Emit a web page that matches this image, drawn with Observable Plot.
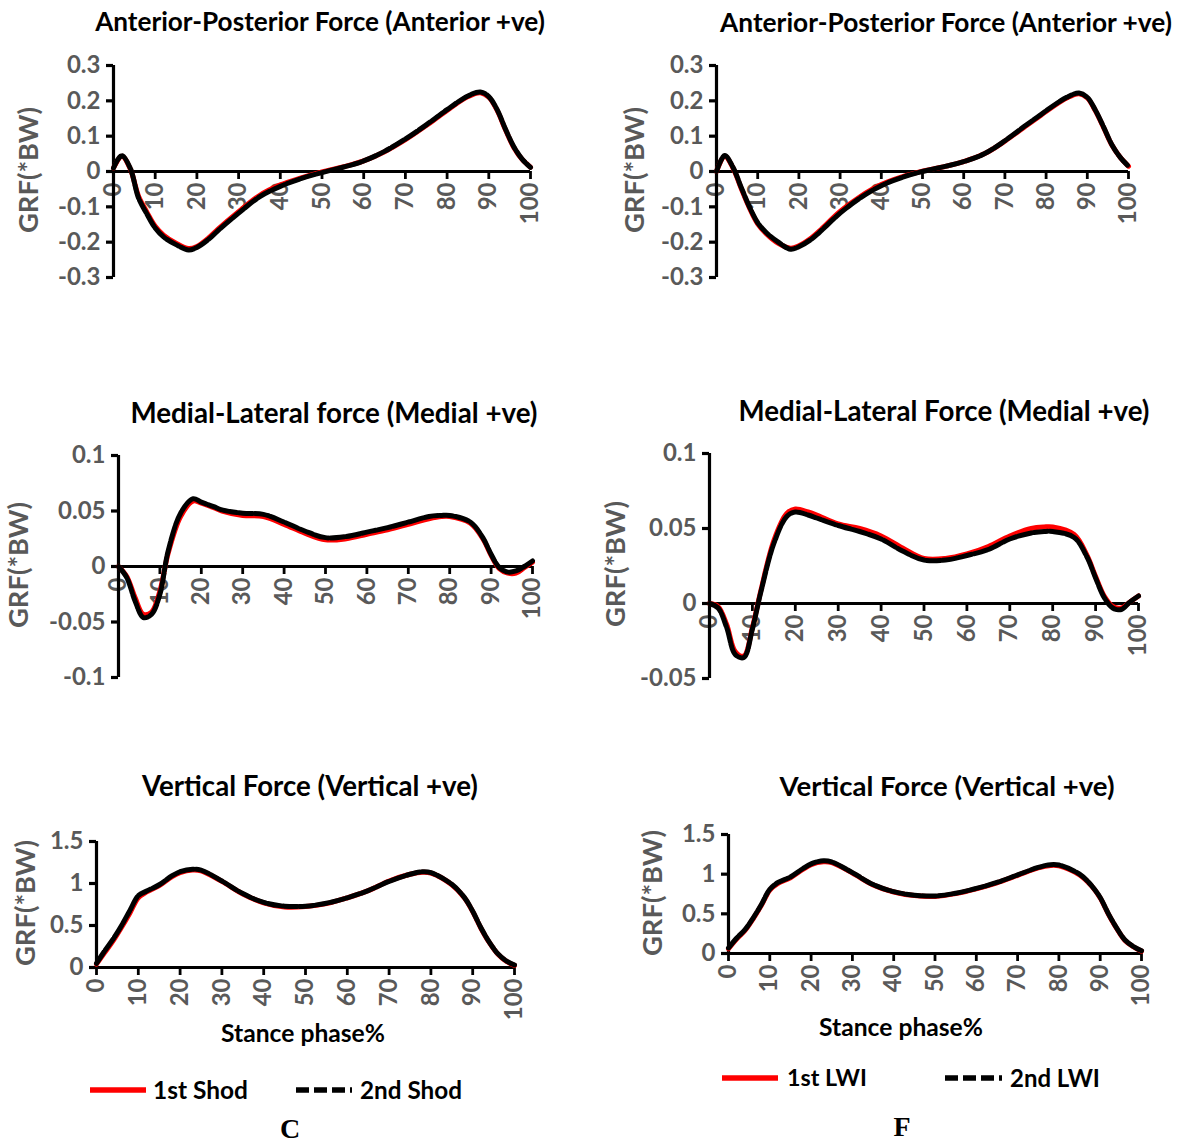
<!DOCTYPE html>
<html><head><meta charset="utf-8">
<script src="https://cdn.jsdelivr.net/npm/d3@7"></script>
<script src="https://cdn.jsdelivr.net/npm/@observablehq/plot@0.6"></script>
<style>
body{margin:0;background:#fff;}
#root{position:relative;width:1179px;height:1146px;overflow:hidden;background:#fff;font-family:Lato,"Open Sans",sans-serif;}
.t{position:absolute;white-space:nowrap;font-weight:700;line-height:1;}
.c{transform:translate(-50%,-50%);}
.ylab{transform:translate(-50%,-50%) rotate(-90deg);color:#595959;}
#root svg{overflow:visible;}
</style></head><body><div id="root"></div>
<script>
// ---- data ----
const stance = [0,2,4,6,8,10,12,15,18,20,23,25,30,35,40,45,50,55,60,65,70,75,78,80,85,88,90,92,94,96,98,100];
const apShod1 = [0.01,0.043,0.008,-0.07,-0.115,-0.155,-0.18,-0.203,-0.218,-0.212,-0.186,-0.164,-0.114,-0.068,-0.038,-0.018,-0.001,0.013,0.03,0.056,0.09,0.13,0.156,0.173,0.212,0.223,0.21,0.173,0.118,0.068,0.034,0.012];
const apShod2 = [0.01,0.045,0.01,-0.075,-0.12,-0.16,-0.185,-0.207,-0.222,-0.215,-0.19,-0.168,-0.118,-0.072,-0.042,-0.02,-0.003,0.012,0.03,0.057,0.092,0.132,0.158,0.175,0.214,0.225,0.212,0.175,0.12,0.07,0.035,0.012];
const apLwi1 = [0.0,0.043,0.01,-0.048,-0.103,-0.148,-0.175,-0.203,-0.217,-0.21,-0.188,-0.168,-0.113,-0.07,-0.037,-0.015,0.001,0.013,0.028,0.05,0.086,0.128,0.153,0.17,0.208,0.22,0.208,0.171,0.123,0.074,0.04,0.015];
const apLwi2 = [0.0,0.045,0.012,-0.045,-0.1,-0.145,-0.172,-0.2,-0.22,-0.213,-0.192,-0.172,-0.118,-0.074,-0.04,-0.017,0.0,0.013,0.028,0.05,0.087,0.13,0.155,0.172,0.21,0.222,0.21,0.173,0.125,0.075,0.04,0.015];
const mlShod1 = [0,-0.009,-0.028,-0.043,-0.041,-0.022,0.012,0.045,0.059,0.057,0.053,0.05,0.046,0.045,0.038,0.03,0.024,0.025,0.029,0.033,0.038,0.043,0.045,0.045,0.039,0.025,0.01,-0.002,-0.006,-0.006,-0.001,0.004];
const mlShod2 = [0,-0.01,-0.031,-0.046,-0.043,-0.025,0.014,0.048,0.061,0.058,0.054,0.051,0.048,0.047,0.04,0.032,0.026,0.027,0.031,0.035,0.04,0.045,0.046,0.046,0.04,0.026,0.011,-0.001,-0.005,-0.004,0,0.005];
const mlLwi1 = [0,-0.002,-0.014,-0.032,-0.035,-0.016,0.009,0.042,0.06,0.063,0.061,0.059,0.053,0.05,0.045,0.037,0.03,0.03,0.033,0.038,0.045,0.05,0.051,0.051,0.046,0.032,0.018,0.005,-0.002,-0.003,0.001,0.005];
const mlLwi2 = [0,-0.003,-0.016,-0.034,-0.036,-0.017,0.008,0.04,0.058,0.061,0.059,0.057,0.052,0.048,0.043,0.035,0.029,0.029,0.032,0.036,0.043,0.047,0.048,0.048,0.044,0.031,0.017,0.004,-0.003,-0.004,0.001,0.005];
const vShod1 = [0.04,0.18,0.32,0.48,0.65,0.83,0.9,0.975,1.08,1.13,1.16,1.15,1.025,0.875,0.77,0.72,0.725,0.76,0.83,0.915,1.03,1.11,1.135,1.125,0.985,0.83,0.665,0.465,0.295,0.16,0.075,0.025];
const vShod2 = [0.05,0.2,0.34,0.5,0.68,0.855,0.91,0.985,1.09,1.14,1.17,1.16,1.03,0.88,0.775,0.73,0.73,0.765,0.83,0.915,1.025,1.11,1.14,1.13,0.99,0.835,0.67,0.47,0.3,0.165,0.08,0.03];
const vLwi1 = [0.06,0.185,0.29,0.44,0.61,0.8,0.885,0.955,1.06,1.12,1.155,1.145,1.015,0.865,0.775,0.73,0.72,0.755,0.815,0.89,0.985,1.08,1.11,1.105,0.99,0.845,0.7,0.495,0.315,0.165,0.085,0.03];
const vLwi2 = [0.07,0.195,0.3,0.45,0.62,0.81,0.895,0.965,1.07,1.13,1.17,1.155,1.02,0.87,0.78,0.735,0.725,0.76,0.82,0.895,0.99,1.085,1.12,1.115,1.0,0.85,0.705,0.5,0.32,0.17,0.09,0.035];

const xTicks = [0,10,20,30,40,50,60,70,80,90,100];
const apTicks = [-0.3,-0.2,-0.1,0,0.1,0.2,0.3];
const mlTicksC = [-0.1,-0.05,0,0.05,0.1];
const mlTicksF = [-0.05,0,0.05,0.1];
const vTicks = [0,0.5,1,1.5];

const titlesC = ["Anterior-Posterior Force (Anterior +ve)","Medial-Lateral force (Medial +ve)","Vertical Force (Vertical +ve)"];
const titlesF = ["Anterior-Posterior Force (Anterior +ve)","Medial-Lateral Force (Medial +ve)","Vertical Force (Vertical +ve)"];
const yLabel = "GRF(*BW)";
const xLabel = "Stance phase%";
const legendC = ["1st Shod","2nd Shod"];
const legendF = ["1st LWI","2nd LWI"];
const panelLetters = ["C","F"];

// ---- layout ----
const root = document.getElementById("root");
const GRAY = "#595959";
const FONT = 'Lato,"Open Sans",sans-serif';

function addText(txt, cx, cy, size, cls, color, width, family) {
  const d = document.createElement("div");
  d.className = "t " + cls;
  d.textContent = txt;
  d.style.left = cx + "px"; d.style.top = cy + "px";
  d.style.fontSize = size + "px";
  if (color) d.style.color = color;
  if (family) d.style.fontFamily = family;
  root.appendChild(d);
  if (width) {
    const w = d.getBoundingClientRect();
    const cur = cls.includes("ylab") ? w.height : w.width;
    d.style.fontSize = (size * width / cur) + "px";
  }
  return d;
}

function panel(s1, s2, yTicks, frame, title, titlePos, ylabPos) {
  const [x0, x1, yT, yB] = frame;
  const mL = 90, mR = 20, mT = 14, mB = 70;
  const d1 = stance.map((x, i) => ({x, y: s1[i]}));
  const d2 = stance.map((x, i) => ({x, y: s2[i]}));
  const plot = Plot.plot({
    width: x1 - x0 + mL + mR, height: yB - yT + mT + mB,
    marginLeft: mL, marginRight: mR, marginTop: mT, marginBottom: mB,
    x: {domain: [0, 100], axis: null},
    y: {domain: [yTicks[0], yTicks[yTicks.length - 1]], axis: null},
    style: {fontFamily: FONT, fontWeight: 700, fontSize: "21px", background: "transparent", overflow: "visible"},
    marks: [
      Plot.text(xTicks, {x: d => d, y: 0, text: d => String(d), rotate: -90, textAnchor: "end", dy: 11, fill: GRAY, fontSize: 24, fontWeight: 700}),
      Plot.ruleY([0], {stroke: "black", strokeWidth: 2.8}),
      Plot.ruleX(xTicks, {x: d => d, y1: 0, y2: 0, insetBottom: -8, stroke: "black", strokeWidth: 2.8}),
      Plot.ruleX([0], {stroke: "black", strokeWidth: 3.2}),
      Plot.axisY(yTicks, {tickSize: 7, tickPadding: 6, strokeWidth: 3.2, stroke: "black", fill: GRAY, tickFormat: d => String(d), label: null, fontSize: 24, fontWeight: 700}),
      Plot.line(d1, {x: "x", y: "y", stroke: "#ff0000", strokeWidth: 5, curve: "catmull-rom"}),
      Plot.line(d2, {x: "x", y: "y", stroke: "#000000", strokeWidth: 5, strokeDasharray: "14,2", curve: "catmull-rom"})
    ]
  });
  plot.style.position = "absolute";
  plot.style.left = (x0 - mL) + "px";
  plot.style.top = (yT - mT) + "px";
  root.appendChild(plot);
  addText(title[0], titlePos[0], titlePos[1], 22, "c", "#000", title[1]);
  addText(yLabel, ylabPos[0], ylabPos[1], 22, "ylab", GRAY, 126);
}

panel(apShod1, apShod2, apTicks, [113, 530, 65, 277], [titlesC[0], 450], [320, 21], [28, 170]);
panel(apLwi1, apLwi2, apTicks, [716, 1128, 65, 277], [titlesF[0], 452], [946, 22], [634, 170]);
panel(mlShod1, mlShod2, mlTicksC, [118, 532, 455, 677], [titlesC[1], 407], [334, 413], [18, 565]);
panel(mlLwi1, mlLwi2, mlTicksF, [709, 1138, 453, 678], [titlesF[1], 411], [944, 411], [615, 564]);
panel(vShod1, vShod2, vTicks, [96, 514, 841, 967], [titlesC[2], 336], [310, 786], [25, 903]);
panel(vLwi1, vLwi2, vTicks, [728, 1141, 834, 953], [titlesF[2], 335], [947, 786], [652, 893]);

addText(xLabel, 303, 1033, 22, "c", "#000", 164);
addText(xLabel, 901, 1027, 22, "c", "#000", 164);

function legendItem(x1, x2, y, dashed, label, tx, tw) {
  const svg = d3.select(root).append("svg").style("position", "absolute").style("left", "0px").style("top", "0px")
    .attr("width", 1179).attr("height", 1146).style("pointer-events", "none");
  svg.append("line").attr("x1", x1).attr("x2", x2).attr("y1", y).attr("y2", y)
    .attr("stroke", dashed ? "#000" : "#ff0000").attr("stroke-width", 5.5)
    .attr("stroke-dasharray", dashed ? "13,5" : null);
  const d = addText(label, tx, y, 23, "", "#000", tw);
  d.style.transform = "translate(0,-50%)";
}
legendItem(90, 146, 1090, false, legendC[0], 153, 95);
legendItem(296, 352, 1090, true, legendC[1], 360, 102);
legendItem(722, 778, 1078, false, legendF[0], 787, 80);
legendItem(945, 1002, 1078, true, legendF[1], 1010, 90);

addText(panelLetters[0], 290, 1129, 28, "c", "#000", null, '"Liberation Serif","Times New Roman",serif');
addText(panelLetters[1], 902, 1127, 28, "c", "#000", null, '"Liberation Serif","Times New Roman",serif');
</script></body></html>
